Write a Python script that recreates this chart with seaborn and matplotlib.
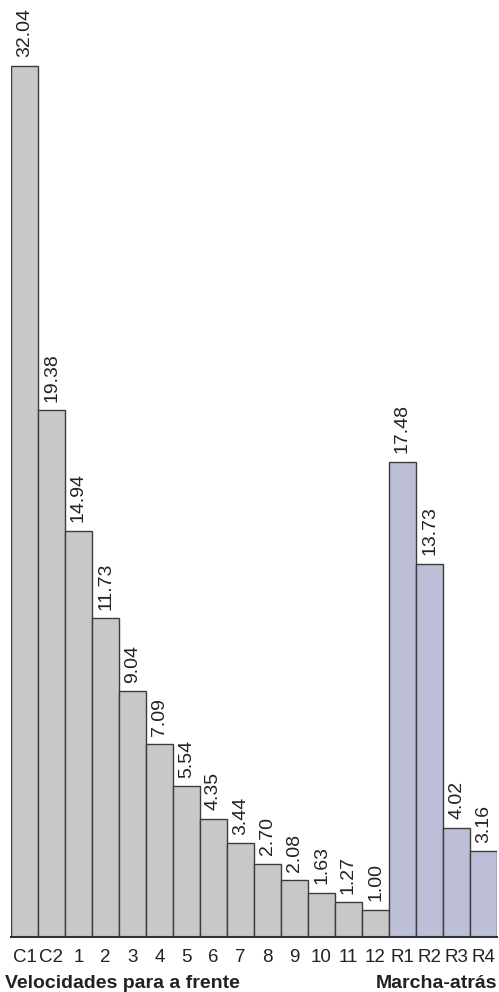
import matplotlib
matplotlib.use("Agg")
import matplotlib.pyplot as plt
import seaborn as sns
import pandas as pd

categories = ["C1", "C2", "1", "2", "3", "4", "5", "6", "7", "8", "9", "10", "11", "12",
              "R1", "R2", "R3", "R4"]
values = [32.04, 19.38, 14.94, 11.73, 9.04, 7.09, 5.54, 4.35, 3.44, 2.70, 2.08, 1.63, 1.27, 1.00,
          17.48, 13.73, 4.02, 3.16]
groups = ["Velocidades para a frente"] * 14 + ["Marcha-atrás"] * 4
group_colors = {"Velocidades para a frente": "#c8c8c9", "Marcha-atrás": "#b9badb"}

sns.set_style("white")
plt.rcParams["font.family"] = ["Liberation Sans", "DejaVu Sans"]

df = pd.DataFrame({"cat": categories, "val": values, "group": groups})

fig = plt.figure(figsize=(4.99, 9.92), dpi=100)
ax = fig.add_axes([11 / 499, 55 / 992, 486 / 499, 937 / 992])

sns.barplot(data=df, x="cat", y="val", hue="group", palette=group_colors, dodge=False,
            width=1.0, edgecolor="#3c3c3c", linewidth=1.0, legend=False, ax=ax,
            order=categories)

for cont in ax.containers:
    ax.bar_label(cont, fmt="%.2f", rotation=90, padding=6, fontsize=14, color="#222222")

ax.set_xlim(-0.5, len(categories) - 0.5)
ax.set_ylim(0, 34.46)
ax.set_xlabel("")
ax.set_ylabel("")
ax.set_yticks([])
for s in ["top", "left", "right"]:
    ax.spines[s].set_visible(False)
ax.spines["bottom"].set_color("#333333")
ax.spines["bottom"].set_linewidth(1.5)
ax.tick_params(axis="x", length=0, pad=9, labelsize=13.5, colors="#222222")

fig.text(5 / 499, 1 - 983 / 992, "Velocidades para a frente", fontsize=14, fontweight="bold",
         ha="left", va="center", color="#222222")
fig.text(497 / 499, 1 - 983 / 992, "Marcha-atrás", fontsize=14, fontweight="bold",
         ha="right", va="center", color="#222222")

fig.savefig("out.png", dpi=100)
